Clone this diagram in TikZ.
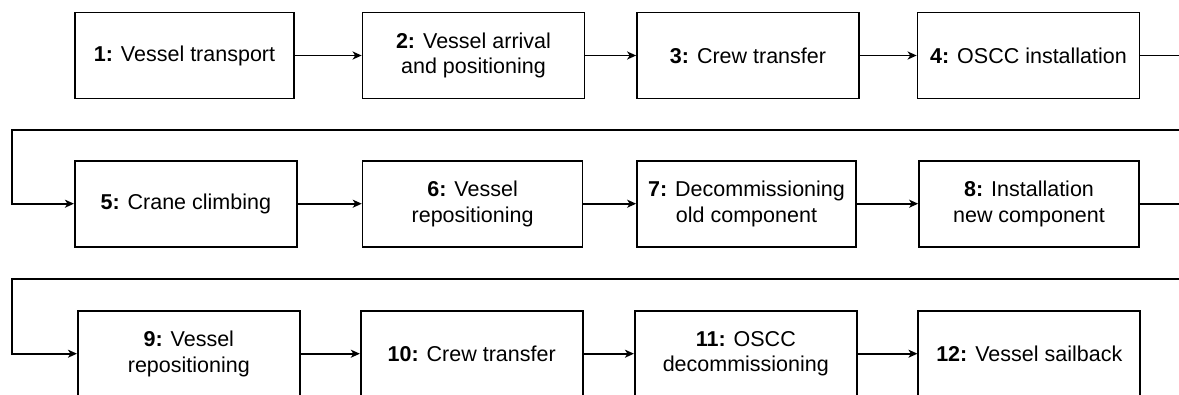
\documentclass[tikz,border=0pt]{standalone}
\usepackage{fontspec}
\setmainfont{Liberation Sans}
\usetikzlibrary{arrows.meta}
\tikzset{
  stepbox/.style={draw=black, line width=1.7pt, minimum width=222pt, minimum height=86pt,
    inner sep=2pt, align=center, font=\fontsize{21.5}{25.8}\selectfont},
  arr/.style={draw=black, line width=1.7pt, -{Stealth[length=9pt,width=8pt,inset=2.5pt]}},
}
\begin{document}
\begin{tikzpicture}[x=1pt,y=-1pt]
\useasboundingbox (0,0) rectangle (1179,394);
\clip (0,0) rectangle (1179,394);
% row 1
\node[stepbox, minimum width=219pt] (b1) at (184.5,55.5) {\textbf{1:} Vessel transport};
\node[stepbox] (b2) at (473.5,55.5) {\textbf{2:} Vessel arrival\\and positioning};
\node[stepbox] (b3) at (748,55.5) {\textbf{3:} Crew transfer};
\node[stepbox] (b4) at (1028.5,55.5) {\textbf{4:} OSCC installation};
% row 2
\node[stepbox] (b5) at (185.8,203.7) {\textbf{5:} Crane climbing};
\node[stepbox, minimum width=220pt] (b6) at (472.6,203.7) {\textbf{6:} Vessel\\repositioning};
\node[stepbox, minimum width=219pt] (b7) at (746.5,203.7) {\textbf{7:} Decommissioning\\old component};
\node[stepbox, minimum width=220pt] (b8) at (1029,203.7) {\textbf{8:} Installation\\new component};
% row 3
\node[stepbox] (b9) at (188.8,353.7) {\textbf{9:} Vessel\\repositioning};
\node[stepbox] (b10) at (471.7,353.7) {\textbf{10:} Crew transfer};
\node[stepbox] (b11) at (745.8,353.7) {\textbf{11:} OSCC\\decommissioning};
\node[stepbox] (b12) at (1029.3,353.7) {\textbf{12:} Vessel sailback};
% turn coordinates
\coordinate (r1) at (1200,55.5);
\coordinate (l1) at (12,130);
\coordinate (r2) at (1200,203.7);
\coordinate (l2) at (12,279);
% connectors
\draw[arr] (b1.east) -- (b2.west);
\draw[arr] (b2.east) -- (b3.west);
\draw[arr] (b3.east) -- (b4.west);
\draw[arr] (b4.east) -- (r1) |- (l1) |- (b5.west);
\draw[arr] (b5.east) -- (b6.west);
\draw[arr] (b6.east) -- (b7.west);
\draw[arr] (b7.east) -- (b8.west);
\draw[arr] (b8.east) -- (r2) |- (l2) |- (b9.west);
\draw[arr] (b9.east) -- (b10.west);
\draw[arr] (b10.east) -- (b11.west);
\draw[arr] (b11.east) -- (b12.west);
\end{tikzpicture}
\end{document}
